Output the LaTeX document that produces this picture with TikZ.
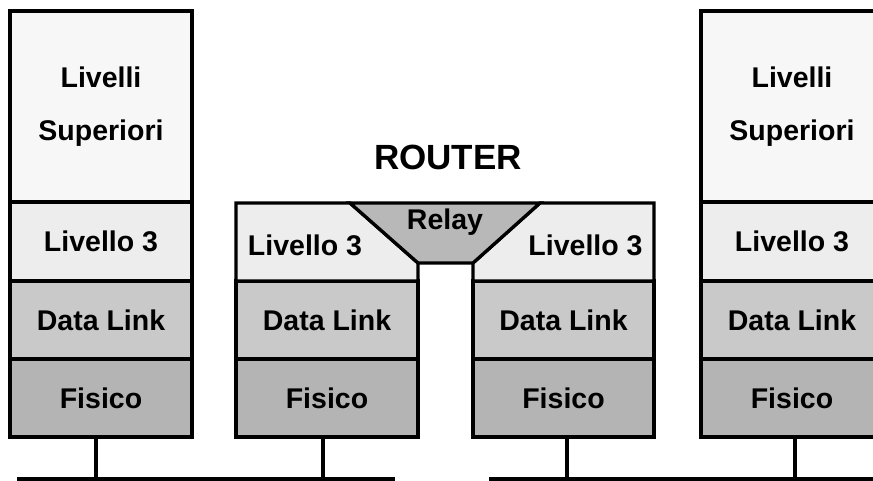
\documentclass[tikz,border=0pt]{standalone}
\usepackage{fontspec}
\setmainfont{Liberation Sans}
\definecolor{cSup}{HTML}{F7F7F7}
\definecolor{cL3}{HTML}{EDEDED}
\definecolor{cDL}{HTML}{C9C9C9}
\definecolor{cFis}{HTML}{B4B4B4}
\definecolor{cRelay}{HTML}{B8B8B8}
\tikzset{
  lay/.style={draw=black, line width=3.3pt, minimum width=182pt, inner sep=0pt, outer sep=0pt,
              font=\fontsize{28.5}{53}\selectfont\bfseries, align=center},
  sup/.style={lay, fill=cSup, minimum height=191pt},
  lthree/.style={lay, fill=cL3, minimum height=79pt},
  dlink/.style={lay, fill=cDL, minimum height=78pt},
  fis/.style={lay, fill=cFis, minimum height=78pt},
  lbl/.style={font=\fontsize{28.5}{32}\selectfont\bfseries, inner sep=0pt},
  wire/.style={line width=3.3pt}
}
\begin{document}
\begin{tikzpicture}[x=1pt,y=-1pt]
\useasboundingbox (0,0) rectangle (873,481);
\clip (0,0) rectangle (873,481);
\fill[white] (0,0) rectangle (873,481);

% left host
\node[sup] (sup1) at (101,106.5) {Livelli\\Superiori};
\node[lthree] (l31) at (101,241.5) {Livello 3};
\node[dlink] (dl1) at (101,320) {Data Link};
\node[fis] (fis1) at (101,398) {Fisico};

% right host
\node[sup] (sup4) at (792,106.5) {Livelli\\Superiori};
\node[lthree] (l34) at (792,241.5) {Livello 3};
\node[dlink] (dl4) at (792,320) {Data Link};
\node[fis] (fis4) at (792,398) {Fisico};

% router
\node[dlink] (dl2) at (327,320) {Data Link};
\node[fis] (fis2) at (327,398) {Fisico};
\node[dlink, minimum width=181pt] (dl3) at (563.5,320) {Data Link};
\node[fis, minimum width=181pt] (fis3) at (563.5,398) {Fisico};

\filldraw[fill=cL3, line width=3.3pt] (236,203) -- (350,203) -- (418,263) -- (418,281) -- (236,281) -- cycle;
\filldraw[fill=cL3, line width=3.3pt] (473,263) -- (540,203) -- (654,203) -- (654,281) -- (473,281) -- cycle;
\filldraw[fill=cRelay, line width=3.3pt] (350,203) -- (540,203) -- (473,263) -- (418,263) -- cycle;
\node[lbl] (l32) at (305,245) {Livello 3};
\node[lbl] (l33) at (585.5,245) {Livello 3};
\node[lbl] (relay) at (445,222) {Relay};
\node[font=\fontsize{35}{40}\selectfont\bfseries, inner sep=0pt] (router) at (448,157) {ROUTER};

% buses
\coordinate (busAl) at (17,479);
\coordinate (busAr) at (395,479);
\coordinate (busBl) at (489,479);
\coordinate (busBr) at (880,479);
\coordinate (t1) at (96,479);
\coordinate (t2) at (323,479);
\coordinate (t3) at (567,479);
\coordinate (t4) at (795,479);
\draw[wire] (busAl) -- (busAr);
\draw[wire] (busBl) -- (busBr);
\draw[wire] (fis1.south -| t1) -- (t1);
\draw[wire] (fis2.south -| t2) -- (t2);
\draw[wire] (fis3.south -| t3) -- (t3);
\draw[wire] (fis4.south -| t4) -- (t4);
\end{tikzpicture}
\end{document}
